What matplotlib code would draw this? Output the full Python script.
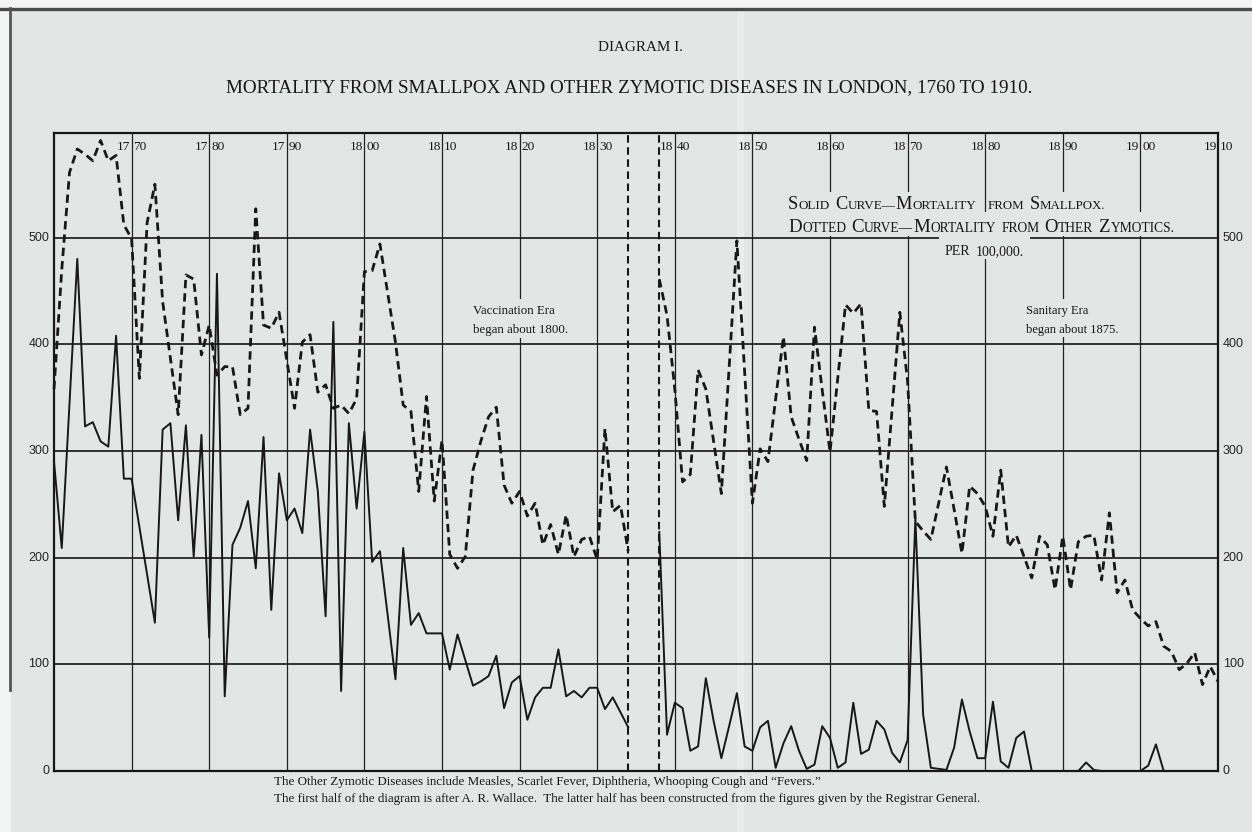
import matplotlib
matplotlib.use("Agg")
import matplotlib.pyplot as plt
from matplotlib.patches import Rectangle
from matplotlib.lines import Line2D
import matplotlib.transforms as mtransforms

# ---------------- data (per 100,000) ----------------
first_start = 1760          # Wallace's figures, 1760-1834
second_start = 1838         # Registrar General, 1838-1910

zymotic_first = [
    358, 470, 561, 583, 578, 572, 591, 572, 577, 512,   # 1760-69
    499, 368, 514, 550, 440, 387, 334, 465, 461, 390,   # 1770-79
    418, 371, 379, 379, 334, 340, 527, 418, 415, 430,   # 1780-89
    385, 340, 402, 409, 355, 362, 340, 343, 335, 349,   # 1790-99
    468, 469, 494, 448, 402, 343, 337, 262, 351, 253,   # 1800-09
    310, 203, 190, 201, 282, 309, 332, 341, 268, 251,   # 1810-19
    262, 239, 251, 212, 231, 203, 240, 201, 217, 220,   # 1820-29
    198, 321, 243, 249, 206,                            # 1830-34
]
smallpox_first = [
    290, 209, 345, 480, 323, 327, 309, 304, 408, 274,   # 1760-69
    274, 229, 184, 139, 320, 326, 235, 324, 201, 315,   # 1770-79
    125, 466, 70, 212, 228, 253, 190, 313, 151, 279,    # 1780-89
    235, 246, 223, 320, 262, 145, 421, 75, 326, 246,    # 1790-99
    318, 196, 206, 146, 86, 209, 137, 148, 129, 129,    # 1800-09
    129, 95, 128, 104, 80, 84, 89, 108, 59, 83,         # 1810-19
    89, 48, 69, 78, 78, 114, 70, 75, 69, 78,            # 1820-29
    78, 58, 69, 55, 41,                                 # 1830-34
]
zymotic_second = [
    461, 427,                                           # 1838-39
    358, 271, 278, 376, 358, 309, 260, 378, 497, 374,   # 1840-49
    251, 302, 290, 349, 407, 332, 311, 291, 416, 357,   # 1850-59
    299, 368, 437, 429, 438, 338, 337, 248, 339, 430,   # 1860-69
    365, 234, 225, 217, 251, 285, 245, 204, 267, 260,   # 1870-79
    248, 220, 282, 210, 221, 201, 181, 220, 212, 170,   # 1880-89
    220, 170, 215, 220, 221, 179, 242, 167, 179, 151,   # 1890-99
    143, 136, 140, 117, 112, 95, 101, 111, 81, 98,      # 1900-09
    84,                                                 # 1910
]
smallpox_second = [
    224, 34,                                            # 1838-39
    64, 59, 19, 23, 87, 47, 12, 42, 73, 23,             # 1840-49
    19, 41, 47, 3, 26, 42, 19, 2, 6, 42,                # 1850-59
    31, 3, 8, 64, 16, 20, 47, 39, 17, 8,                # 1860-69
    29, 237, 53, 3, 2, 1, 22, 67, 37, 12,               # 1870-79
    12, 65, 9, 3, 31, 37, 0, 0, 0, 0,                   # 1880-89
    0, 0, 0, 8, 1, 0, 0, 0, 0, 0,                       # 1890-99
    0, 5, 25, 0,                                        # 1900-03
]
years_zf = list(range(first_start, first_start + len(zymotic_first)))
years_sf = list(range(first_start, first_start + len(smallpox_first)))
years_zs = list(range(second_start, second_start + len(zymotic_second)))
years_ss = list(range(second_start, second_start + len(smallpox_second)))

decades = list(range(1770, 1911, 10))
y_levels = [0, 100, 200, 300, 400, 500]
gap_lines = [1834, 1838]

title = "MORTALITY FROM SMALLPOX AND OTHER ZYMOTIC DISEASES IN LONDON, 1760 TO 1910."
header = "DIAGRAM I."
legend_1a = "Solid Curve\u2014Mortality"
legend_1b = "from Smallpox."
legend_2 = "Dotted Curve\u2014Mortality from Other Zymotics."
legend_3 = "per 100,000."
era_1 = ["Vaccination Era", "began about 1800."]
era_2 = ["Sanitary Era", "began about 1875."]
note_1 = ("The Other Zymotic Diseases include Measles, Scarlet Fever, Diphtheria, "
          "Whooping Cough and \u201cFevers.\u201d")
note_2 = ("The first half of the diagram is after A. R. Wallace.  The latter half has "
          "been constructed from the figures given by the Registrar General.")

# ---------------- style ----------------
W, H = 1252, 832
PAPER = "#e2e6e5"
INK = "#181818"
SERIF = ["Liberation Serif", "DejaVu Serif"]
SANS = ["Liberation Sans", "DejaVu Sans"]

fig = plt.figure(figsize=(W / 100, H / 100), dpi=100)
fig.patch.set_facecolor("#f4f4f4")
renderer = fig.canvas.get_renderer()


def fy(y):
    return 1 - y / H


# paper, page fold and scan edges
fig.add_artist(Rectangle((11 / W, 0), 1 - 11 / W, 1 - 10 / H, transform=fig.transFigure,
                         facecolor=PAPER, edgecolor="none", zorder=-10))
fig.add_artist(Rectangle((737 / W, 0), 7 / W, 1 - 10 / H, transform=fig.transFigure,
                         facecolor="#e9edec", edgecolor="none", zorder=-9.5))
fig.add_artist(Line2D([0, 1], [fy(8.5)] * 2, transform=fig.transFigure,
                      color="#4a4a4a", lw=2.4, zorder=-9))
fig.add_artist(Line2D([9.5 / W] * 2, [fy(8), fy(690)], transform=fig.transFigure,
                      color="#555555", lw=2.0, zorder=-9))

# ---------------- axes ----------------
L, R, T, B = 54, 1218, 133, 771
ax = fig.add_axes([L / W, 1 - B / H, (R - L) / W, (B - T) / H])
ax.set_facecolor("none")
ax.set_xlim(1760, 1910)
ax.set_ylim(0, 598)
ax.set_xticks([])
ax.set_yticks([])
for s in ax.spines.values():
    s.set_linewidth(1.6)
    s.set_color(INK)

for v in y_levels[1:]:
    ax.axhline(v, color="#2c2c2c", lw=1.35, zorder=1)
for d in decades[:-1]:
    ax.axvline(d, color="#222222", lw=0.9, zorder=1)
for g in gap_lines:
    ax.axvline(g, color=INK, lw=1.5, ls=(0, (3.6, 2.2)), zorder=2)

dash = (0, (3.0, 1.8))
ax.plot(years_zf, zymotic_first, color=INK, lw=2.0, ls=dash, zorder=3, clip_on=False)
ax.plot(years_zs, zymotic_second, color=INK, lw=2.0, ls=dash, zorder=3, clip_on=False)
ax.plot(years_sf, smallpox_first, color=INK, lw=1.4, zorder=3)
ax.plot(years_ss, smallpox_second, color=INK, lw=1.4, zorder=3)

# y labels on both sides
for v in y_levels:
    ax.text(-0.004, v, str(v), transform=ax.get_yaxis_transform(), ha="right",
            va="center", fontsize=9, family=SANS, color="#262626")
    ax.text(1.004, v, str(v), transform=ax.get_yaxis_transform(), ha="left",
            va="center", fontsize=9, family=SANS, color="#262626")

# decade labels split by the vertical line: 17|70
xt = ax.get_xaxis_transform()
t_left = mtransforms.offset_copy(xt, fig=fig, x=-1.2, y=0, units="dots")
t_right = mtransforms.offset_copy(xt, fig=fig, x=1.8, y=0, units="dots")
ylab = 1 - 14.0 / (B - T)
for d in decades:
    s = str(d)
    ax.text(d, ylab, s[:2], transform=t_left, ha="right", va="center",
            fontsize=9.6, family=SERIF, color=INK, clip_on=False)
    ax.text(d, ylab, s[2:], transform=t_right, ha="left", va="center",
            fontsize=9.6, family=SERIF, color=INK, clip_on=False)


# ---------------- text helpers ----------------
def fit_text(x, y, s, target_w, ha="left", size=10.0, family=SERIF):
    t = fig.text(x / W, fy(y), s, ha=ha, va="baseline", fontsize=size,
                 family=family, color=INK, zorder=6)
    w = t.get_window_extent(renderer).width
    t.set_fontsize(size * target_w / w)
    return t


def cover(x0, y0, x1, y1):
    fig.add_artist(Rectangle((x0 / W, fy(y1)), (x1 - x0) / W, (y1 - y0) / H,
                             transform=fig.transFigure, facecolor=PAPER,
                             edgecolor="none", zorder=4))


def _runs(word):
    runs = []
    for ch in word:
        big = ch.isupper()
        if runs and runs[-1][1] == big:
            runs[-1][0] += ch
        else:
            runs.append([ch, big])
    return runs


def smallcaps(x, y, s, big, small, target=None):
    texts = []
    cur = x
    for i, word in enumerate(s.split(" ")):
        if i:
            cur += 0.34 * small * 100 / 72
        for txt, isbig in _runs(word):
            t = fig.text(cur / W, fy(y), txt.upper(), fontsize=big if isbig else small,
                         family=SERIF, color=INK, ha="left", va="baseline", zorder=6)
            cur = t.get_window_extent(renderer).x1 + 0.4
            texts.append(t)
    if target is not None:
        k = target / (cur - x)
        for t in texts:
            t.remove()
        return smallcaps(x, y, s, big * k, small * k)
    return texts


# ---------------- titles ----------------
fit_text(640, 51, header, 85, ha="center")
fit_text(629, 92, title, 802, ha="center", size=12)

# ---------------- legend block ----------------
cover(785, 192, 980, 214)
cover(986.5, 192, 1109, 214)
cover(785, 212, 1179, 236)
cover(939, 235, 1030, 259)
smallcaps(788, 208.6, legend_1a, 14, 10, target=189)
smallcaps(988, 208.6, legend_1b, 14, 10, target=118)
smallcaps(788, 231.5, legend_2, 14, 10, target=388)
smallcaps(945, 255, legend_3, 14, 10, target=79)

# ---------------- era notes ----------------
cover(470, 299, 571, 338)
t = fit_text(473, 332.7, era_1[1], 95)
fig.text(473 / W, fy(314), era_1[0], ha="left", va="baseline",
         fontsize=t.get_fontsize(), family=SERIF, color=INK, zorder=6)
cover(1023, 299, 1121, 337)
t = fit_text(1026, 332.7, era_2[1], 92)
fig.text(1026 / W, fy(314.3), era_2[0], ha="left", va="baseline",
         fontsize=t.get_fontsize(), family=SERIF, color=INK, zorder=6)

# ---------------- footnotes ----------------
t = fit_text(274, 802, note_2, 709)
fig.text(274 / W, fy(785), note_1, ha="left", va="baseline",
         fontsize=t.get_fontsize(), family=SERIF, color=INK, zorder=6)

fig.savefig("out.png", dpi=100, facecolor=fig.get_facecolor())
